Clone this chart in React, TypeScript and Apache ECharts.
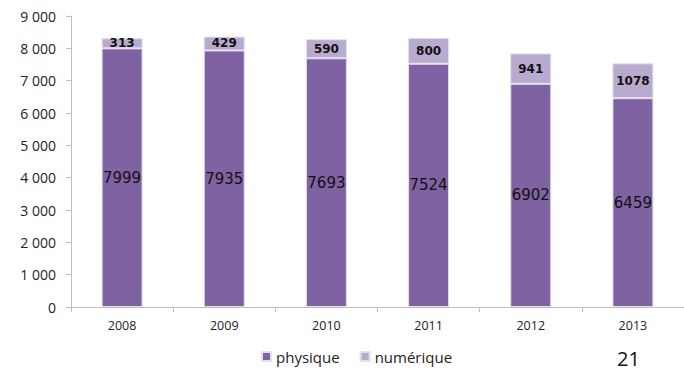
import React, { useEffect, useRef } from "react";
import * as echarts from "echarts";

const years = ["2008", "2009", "2010", "2011", "2012", "2013"];
const physique = [7999, 7935, 7693, 7524, 6902, 6459];
const numerique = [313, 429, 590, 800, 941, 1078];
const pageNumber = "21";

const fmt = (v: number) => {
  const s = String(v);
  return s.length > 3 ? s.slice(0, s.length - 3) + " " + s.slice(-3) : s;
};

export default function App() {
  const ref = useRef<HTMLDivElement>(null);
  useEffect(() => {
    if (!ref.current) return;
    const chart = echarts.init(ref.current, null, { renderer: "svg" });
    chart.setOption({
      animation: false,
      backgroundColor: "#ffffff",
      textStyle: { fontFamily: "Open Sans" },
      grid: { left: 71, top: 16, bottom: 66, width: 621 },
      legend: {
        top: 344,
        left: 256,
        itemWidth: 9,
        itemHeight: 9,
        itemGap: 20,
        icon: "rect",
        textStyle: { fontSize: 15, color: "#222", fontFamily: "Open Sans" },
        data: ["physique", "numérique"],
      },
      xAxis: {
        type: "category",
        data: years,
        axisLine: { lineStyle: { color: "#bdbdbd" } },
        axisTick: { show: true, length: 5, lineStyle: { color: "#bdbdbd" } },
        axisLabel: { color: "#222", fontSize: 12.5, margin: 12 },
      },
      yAxis: {
        type: "value",
        min: 0,
        max: 9000,
        interval: 1000,
        axisLine: { show: true, lineStyle: { color: "#bdbdbd" } },
        axisTick: { show: true, length: 5, lineStyle: { color: "#bdbdbd" } },
        splitLine: { show: false },
        axisLabel: {
          color: "#222",
          fontSize: 14,
          margin: 15,
          formatter: (v: number) => fmt(v),
        },
      },
      series: [
        {
          name: "physique",
          type: "bar",
          stack: "t",
          barWidth: 41,
          data: physique,
          itemStyle: { color: "#7f62a1", borderColor: "#e4dfeb", borderWidth: 1 },
          label: {
            show: true,
            position: "inside",
            color: "#111",
            fontSize: 15,
            fontFamily: "DejaVu Sans",
          },
        },
        {
          name: "numérique",
          type: "bar",
          stack: "t",
          barWidth: 41,
          data: numerique,
          itemStyle: { color: "#b9aacf", borderColor: "#e4dfeb", borderWidth: 1 },
          label: {
            show: true,
            position: "inside",
            color: "#111",
            fontSize: 12,
            fontWeight: "bold",
            fontFamily: "DejaVu Sans",
          },
        },
      ],
      graphic: [
        {
          type: "text",
          x: 617,
          y: 358,
          style: {
            text: pageNumber,
            fontSize: 20,
            lineHeight: 20,
            verticalAlign: "middle",
            fill: "#111",
            fontFamily: "Open Sans",
          },
        },
      ],
    });
    return () => chart.dispose();
  }, []);
  return <div ref={ref} style={{ width: 684, height: 373, position: "absolute", left: 0, top: 0 }} />;
}
